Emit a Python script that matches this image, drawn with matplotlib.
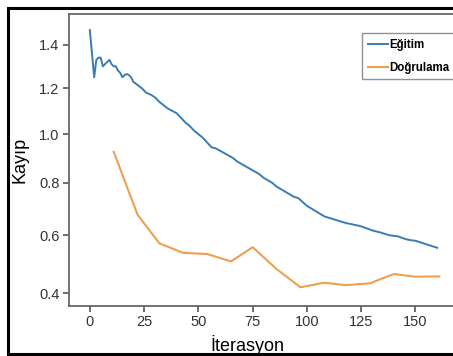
import numpy as np
import matplotlib
matplotlib.use("Agg")
import matplotlib.pyplot as plt
from matplotlib.lines import Line2D

plt.rcParams['font.family'] = ['Liberation Sans', 'DejaVu Sans']

# ===== data =====
egitim_x = [0, 2, 3, 4, 5, 6, 7, 8, 9, 10, 11, 12, 13, 14, 15, 16, 17, 18, 19,
            20, 22, 24, 26, 28, 30, 32, 34, 36, 38, 40, 42, 44, 46, 48, 50,
            52, 54, 56, 58, 60, 62, 64, 66, 68, 70, 72, 74, 76, 78, 80, 82,
            84, 86, 88, 90, 92, 94, 96, 98, 100, 102, 104, 106, 108, 110,
            112, 114, 116, 118, 120, 122, 124, 126, 128, 130, 132, 134, 136,
            138, 140, 142, 144, 146, 148, 150, 152, 154, 156, 158, 160]
egitim_y = [1.47, 1.25, 1.33, 1.34, 1.34, 1.30, 1.31, 1.32, 1.33, 1.31, 1.30,
            1.30, 1.28, 1.27, 1.25, 1.26, 1.265, 1.26, 1.25,
            1.23, 1.215, 1.20, 1.18, 1.172, 1.16, 1.14, 1.125, 1.11, 1.10,
            1.09, 1.07, 1.05, 1.035, 1.015, 1.00, 0.985, 0.965, 0.945, 0.94,
            0.93, 0.92, 0.91, 0.90, 0.885, 0.875, 0.865, 0.855, 0.845, 0.835,
            0.82, 0.81, 0.80, 0.785, 0.775, 0.765, 0.755, 0.745, 0.74, 0.725,
            0.71, 0.70, 0.69, 0.68, 0.67, 0.665, 0.66, 0.655, 0.65, 0.645,
            0.642, 0.638, 0.635, 0.63, 0.624, 0.618, 0.614, 0.61, 0.605,
            0.60, 0.598, 0.596, 0.59, 0.585, 0.582, 0.58, 0.575, 0.57,
            0.565, 0.56, 0.555]

dogrulama_x = [11, 22, 32, 43, 54, 65, 75, 86, 97, 108, 118, 129, 140, 150, 161]
dogrulama_y = [0.926, 0.676, 0.571, 0.537, 0.533, 0.507, 0.557, 0.481, 0.420,
               0.435, 0.427, 0.433, 0.464, 0.455, 0.456]

x_ticks = [0, 25, 50, 75, 100, 125, 150]
y_ticks = [0.4, 0.6, 0.8, 1.0, 1.2, 1.4]

# ===== figure =====
fig = plt.figure(figsize=(4.53, 3.56), dpi=100)
ax = fig.add_axes([0.1523, 0.1413, 0.8852, 0.8194])

p = 0.7
ax.set_yscale('function', functions=(lambda v: np.sign(v) * np.abs(v) ** p,
                                     lambda v: np.sign(v) * np.abs(v) ** (1 / p)))

ax.plot(egitim_x, egitim_y, color='#3a7cb3', lw=1.4, label='Eğitim')
ax.plot(dogrulama_x, dogrulama_y, color='#eea050', lw=1.5, label='Doğrulama')

ax.set_xlim(-9.6, 175.1)
ax.set_ylim(0.361, 1.547)
ax.set_xticks(x_ticks)
ax.set_yticks(y_ticks)
ax.set_yticklabels([f"{v:.1f}" for v in y_ticks])
ax.minorticks_off()

for s in ax.spines.values():
    s.set_color('#666666')
    s.set_linewidth(1.3)

ax.tick_params(direction='out', length=4, width=1.2, color='#555555',
               labelsize=10.5, labelcolor='#333333', pad=3)

ax.set_ylabel('Kayıp', fontsize=13)
ax.set_xlabel('İterasyon', fontsize=13)
ax.yaxis.set_label_coords(-0.1, 0.5)
ax.xaxis.set_label_coords(0.444, -0.1)

# legend box runs off the right edge, as in the reference
leg = fig.legend(loc='upper left', bbox_to_anchor=(362 / 453, 1 - 33 / 356),
                 bbox_transform=fig.transFigure, frameon=True, fancybox=False,
                 prop={'weight': 'bold', 'size': 8.3}, handlelength=1.75,
                 handletextpad=0.15, borderpad=0.5, labelspacing=0.95,
                 borderaxespad=0)
leg.get_frame().set_edgecolor('#777777')
leg.get_frame().set_linewidth(1.0)

# outer frame of the image (left, top, bottom only; right side is cropped)
x0, y0, y1 = 8 / 453, 1 - 354 / 356, 1 - 8 / 356
fig.add_artist(Line2D([1.1, x0, x0, 1.1], [y1, y1, y0, y0],
                      transform=fig.transFigure, color='black', lw=2.2,
                      solid_joinstyle='miter'))

fig.savefig('out.png', dpi=100)
